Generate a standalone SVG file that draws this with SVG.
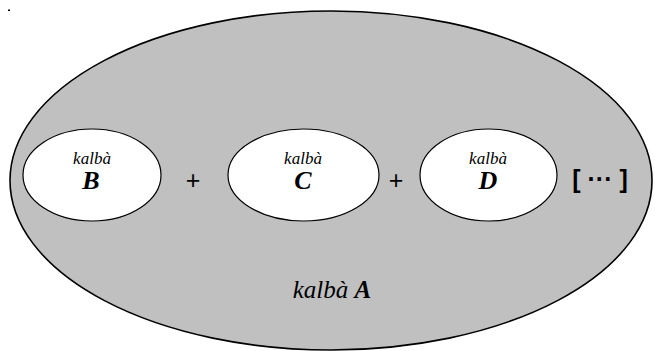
<svg xmlns="http://www.w3.org/2000/svg" width="655" height="351" viewBox="0 0 655 351">
<style>
.outer{fill:#c0c0c0;stroke:#000;stroke-width:1.6}
.inner{fill:#fff;stroke:#000;stroke-width:1.2}
.sm{font-family:"Liberation Serif",serif;font-style:italic;font-size:17px;text-anchor:middle}
.big{font-family:"Liberation Serif",serif;font-style:italic;font-weight:bold;font-size:26px;text-anchor:middle}
.op{font-family:"Liberation Sans",sans-serif;font-size:25px;text-anchor:middle}
.lab{font-family:"Liberation Serif",serif;font-style:italic;font-size:25px;text-anchor:middle}
</style>
<rect width="655" height="351" fill="#fff"/>
<rect x="8" y="9.5" width="2" height="1.5" fill="#000"/>
<g id="A">
<ellipse class="outer" cx="331" cy="180.5" rx="321" ry="169.5"/>
<text class="lab" x="332" y="298">kalbà <tspan font-weight="bold">A</tspan></text>
</g>
<g id="B">
<ellipse class="inner" cx="92" cy="175" rx="69" ry="46"/>
<text class="sm" x="92" y="164">kalbà</text>
<text class="big" x="91" y="189">B</text>
</g>
<g id="C">
<ellipse class="inner" cx="303.5" cy="175" rx="75.5" ry="46"/>
<text class="sm" x="303" y="164">kalbà</text>
<text class="big" x="303" y="189">C</text>
</g>
<g id="D">
<ellipse class="inner" cx="488.5" cy="175" rx="68.5" ry="46"/>
<text class="sm" x="488" y="164">kalbà</text>
<text class="big" x="488" y="189">D</text>
</g>
<g id="ops">
<text class="op" x="193" y="189">+</text>
<text class="op" x="396" y="189">+</text>
<text class="op" x="600" y="188" font-weight="bold" font-size="20">[ ··· ]</text>
</g>
</svg>
